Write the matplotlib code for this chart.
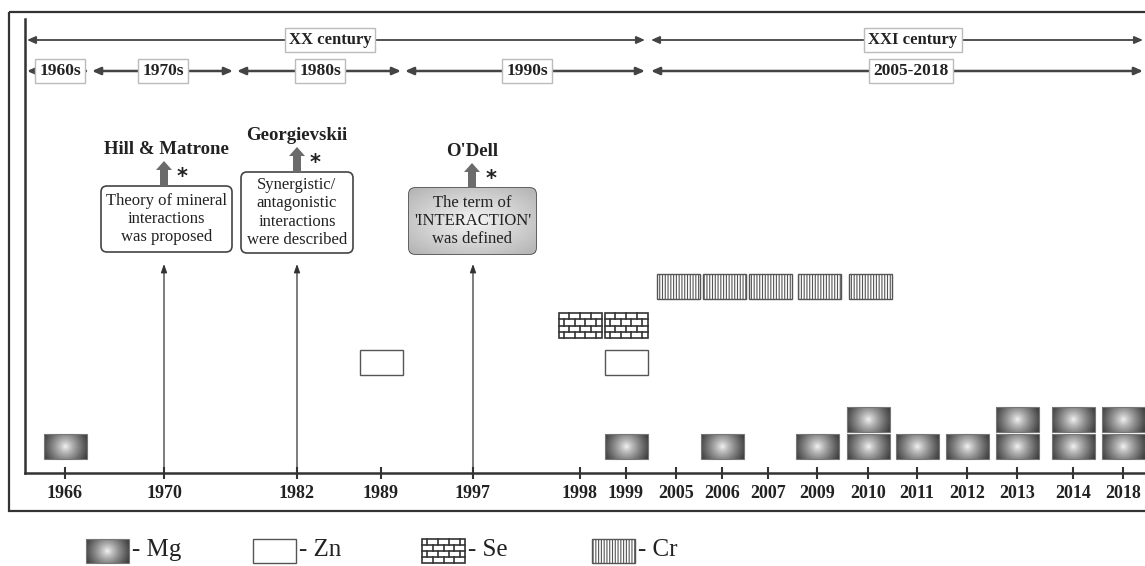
import matplotlib
matplotlib.use('Agg')
import matplotlib.pyplot as plt
from matplotlib.patches import Rectangle, FancyBboxPatch
import numpy as np

plt.rcParams['font.family'] = ['Liberation Serif', 'DejaVu Serif']
plt.rcParams['hatch.linewidth'] = 0.8

# ---- data ----
years = ['1966', '1970', '1982', '1989', '1997', '1998', '1999', '2005', '2006',
         '2007', '2009', '2010', '2011', '2012', '2013', '2014', '2018']

mg_years = ['1966', '1999', '2006', '2009', '2010', '2011', '2012', '2013', '2014', '2018']
mg_count = [1, 1, 1, 1, 2, 1, 1, 2, 2, 2]
zn_years = ['1989', '1999']
se_years = ['1998', '1999']
cr_years = ['2005', '2006', '2007', '2009', '2010']

event_years = ['1970', '1982', '1997']
event_authors = ['Hill & Matrone', 'Georgievskii', "O'Dell"]
event_texts = ['Theory of mineral\ninteractions\nwas proposed',
               'Synergistic/\nantagonistic\ninteractions\nwere described',
               "The term of\n'INTERACTION'\nwas defined"]

century_labels = ['XX century', 'XXI century']
decade_labels = ['1960s', '1970s', '1980s', '1990s', '2005-2018']
legend_labels = ['Mg', 'Zn', 'Se', 'Cr']

# ---- layout (axis units ~ pixels) ----
slot_x = [65, 164, 297, 381, 473, 580, 626, 676, 722, 768, 817, 868, 917, 967, 1017, 1073, 1123]
xmap = dict(zip(years, slot_x))
BW, BH = 43, 25
mg_rows = [14, 41]
zn_y, se_y, cr_y = 98, 135, 174
century_span = [(27, 645), (651, 1143)]
century_cx = [330, 913]
decade_span = [(27, 89), (92, 233), (237, 401), (405, 645), (651, 1143)]
decade_cx = [60, 163, 320, 527, 911]
event_boxes = [(101, 221, 131, 66), (241, 220, 112, 81), (409, 219, 127, 66)]
event_shaded = [False, False, True]

# radial shading, measured in pixels of a 43x25 block
uu, vv = np.meshgrid(np.linspace(-21.5, 21.5, 86), np.linspace(-12.5, 12.5, 50))
dist = np.sqrt(uu ** 2 + vv ** 2)
GRAD = np.clip(0.97 - 0.75 * (dist / 24.9) ** 0.8, 0, 1)
uu2, vv2 = np.meshgrid(np.linspace(-1, 1, 80), np.linspace(-1, 1, 50))
SOFT = 0.96 - 0.26 * np.sqrt(uu2 ** 2 + vv2 ** 2) / np.sqrt(2)


def mg_block(ax, x0, y0, w=BW, h=BH):
    ax.imshow(GRAD, extent=(x0, x0 + w, y0, y0 + h), cmap='gray', vmin=0, vmax=1,
              aspect='auto', interpolation='bilinear', zorder=3, clip_on=False)
    ax.add_patch(Rectangle((x0, y0), w, h, fill=False, ec='#777777', lw=0.8, zorder=4, clip_on=False))


def zn_block(ax, x0, y0, w=BW, h=BH):
    ax.add_patch(Rectangle((x0, y0), w, h, fc='white', ec='#555555', lw=1.0, zorder=3, clip_on=False))


def se_block(ax, x0, y0, w=BW, h=BH):
    ax.add_patch(Rectangle((x0, y0), w, h, fc='white', ec='#333333', lw=1.2, zorder=3, clip_on=False))
    nrow = 4
    for i in range(nrow):
        yb = y0 + i * h / nrow
        yt = yb + h / nrow
        if i > 0:
            ax.plot([x0, x0 + w], [yb, yb], color='#333333', lw=1.2, zorder=4, clip_on=False)
        off = (i % 2) * w / 8
        xs = np.arange(x0 + off + w / 8, x0 + w, w / 4)
        for xv in xs:
            ax.plot([xv, xv], [yb, yt], color='#333333', lw=1.2, zorder=4, clip_on=False)


def cr_block(ax, x0, y0, w=BW, h=BH):
    ax.add_patch(Rectangle((x0, y0), w, h, fc='white', ec='#555555', hatch='||||||',
                           lw=1.0, zorder=3, clip_on=False))


fig = plt.figure(figsize=(11.45, 5.66), dpi=100)

# overlay in figure pixels: outer frame + legend
lax = fig.add_axes([0, 0, 1, 1], zorder=0)
lax.set_xlim(0, 1145)
lax.set_ylim(566, 0)
lax.axis('off')
lax.add_patch(Rectangle((9, 12), 1150, 499, fill=False, ec='#333333', lw=1.6, clip_on=False))

leg_x = [86, 253, 422, 592]
leg_fn = [mg_block, zn_block, se_block, cr_block]
for lx, fn, lab in zip(leg_x, leg_fn, legend_labels):
    fn(lax, lx, 539, BW, 24)
    lax.text(lx + BW + 3, 550, '- ' + lab, fontsize=18, ha='left', va='center', color='#222222')

# main timeline axes
ax = fig.add_axes([25 / 1145, (566 - 473) / 566, 1120 / 1145, 454 / 566], zorder=1)
ax.patch.set_alpha(0)
for s in ['top', 'right']:
    ax.spines[s].set_visible(False)
for s in ['left', 'bottom']:
    ax.spines[s].set_linewidth(1.8)
    ax.spines[s].set_color('#333333')

# element blocks
for yr, n in zip(mg_years, mg_count):
    for k in range(n):
        mg_block(ax, xmap[yr] - BW / 2, mg_rows[k])
for yr in zn_years:
    zn_block(ax, xmap[yr] - BW / 2, zn_y)
for yr in se_years:
    se_block(ax, xmap[yr] - BW / 2, se_y)
for yr in cr_years:
    cr_block(ax, xmap[yr] - BW / 2 + 2, cr_y)

# events
for yr, author, txt, (bx, by, bw, bh), shaded in zip(event_years, event_authors, event_texts,
                                                      event_boxes, event_shaded):
    xv = xmap[yr]
    ax.annotate('', xy=(xv, 209), xytext=(xv, 0),
                arrowprops=dict(arrowstyle='-|>,head_length=0.5,head_width=0.18', color='#333333',
                                lw=0.9, shrinkA=0, shrinkB=0), zorder=2)
    box = FancyBboxPatch((bx, by), bw, bh, boxstyle='round,pad=0,rounding_size=6',
                         fc='white', ec='#444444', lw=1.2, zorder=3)
    ax.add_patch(box)
    if shaded:
        im = ax.imshow(SOFT, extent=(bx, bx + bw, by, by + bh), cmap='gray', vmin=0, vmax=1,
                       aspect='auto', interpolation='bilinear', zorder=3.5)
        im.set_clip_path(box)
    ax.text(bx + bw / 2, by + bh / 2, txt, ha='center', va='center', fontsize=12,
            linespacing=1.18, color='#222222', zorder=5)
    top = by + bh
    ax.arrow(xv - 1 if shaded else xv, top, 0, 25, width=8, head_width=16, head_length=9,
             length_includes_head=True, fc='#6b6b6b', ec='none', zorder=4)
    ax.text(xv + 18, top + 9, '*', family='DejaVu Sans', fontweight='bold', fontsize=15,
            ha='center', va='center', color='#222222', zorder=5)
    ax.text(bx + bw / 2, top + 36, author, ha='center', va='center', fontsize=13.5,
            fontweight='bold', color='#222222', zorder=5)

# period arrows
arr = dict(arrowstyle='<|-|>,head_length=0.5,head_width=0.22', color='#444444',
           shrinkA=0, shrinkB=0, mutation_scale=10)
for (a, b), cx, lab in zip(century_span, century_cx, century_labels):
    ax.annotate('', xy=(a, 433), xytext=(b, 433), arrowprops=dict(arr, lw=1.3),
                annotation_clip=False)
    ax.text(cx, 433, lab, ha='center', va='center', fontsize=12, fontweight='bold',
            color='#222222', zorder=5,
            bbox=dict(boxstyle='square,pad=0.25', fc='white', ec='#bbbbbb', lw=1))
for (a, b), cx, lab in zip(decade_span, decade_cx, decade_labels):
    ax.annotate('', xy=(a, 402), xytext=(b, 402), arrowprops=dict(arr, lw=1.8),
                annotation_clip=False)
    ax.text(cx, 402, lab, ha='center', va='center', fontsize=12.5, fontweight='bold',
            color='#222222', zorder=5,
            bbox=dict(boxstyle='square,pad=0.22', fc='white', ec='#bbbbbb', lw=1))

ax.set_xticks(slot_x, labels=years, fontweight='bold', fontsize=13)
ax.set_yticks([])
ax.tick_params(axis='x', direction='inout', length=9, width=1.5, color='#333333', pad=4,
               labelcolor='#222222')
ax.set_xlim(25, 1145)
ax.set_ylim(0, 454)

plt.savefig('out.png', dpi=100, facecolor='white')
plt.close()
